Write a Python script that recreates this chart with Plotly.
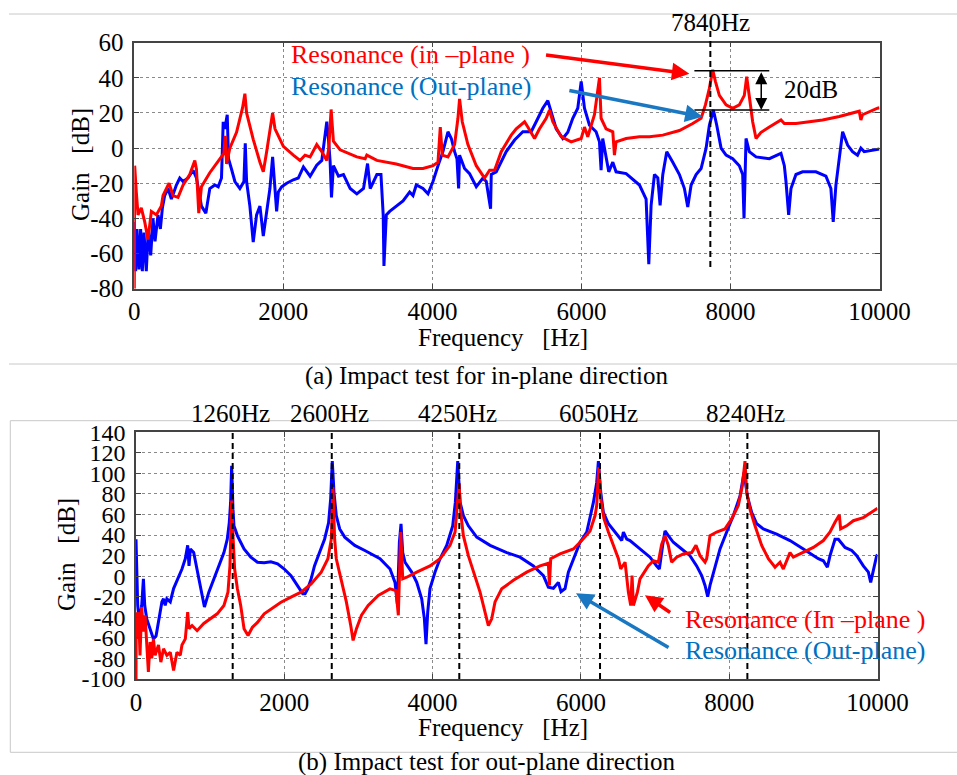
import plotly.graph_objects as go

# ---------------- data ----------------
# (a) impact test for in-plane direction
a_red_f = [0, 5, 27, 50, 94, 140, 184, 229, 296, 363, 386, 466, 520, 587, 655, 744, 812, 834, 865, 901,
           1013, 1148, 1202, 1220, 1238, 1282, 1372, 1453, 1484, 1507, 1596, 1686, 1731, 1776, 1820, 1856, 1888,
           2000, 2134, 2224, 2291, 2359, 2448, 2516, 2583, 2610, 2641, 2672, 2762, 2986, 3098, 3120, 3255, 3390,
           3516, 3740, 3874, 4008, 4075, 4106, 4133, 4209, 4298, 4343, 4365, 4401, 4477, 4589, 4700, 4768, 4835,
           4924, 5058, 5125, 5237, 5281, 5371, 5438, 5527, 5572, 5616, 5728, 5862, 5997, 6041, 6085, 6175, 6242,
           6264, 6331, 6421, 6443, 6465, 6600, 6778, 6913, 7092, 7315, 7494, 7606, 7664, 7717, 7762, 7798, 7851,
           7941, 8030, 8119, 8186, 8218, 8253, 8298, 8343, 8410, 8522, 8678, 8723, 8879, 9058, 9236, 9460, 9728,
           9750, 9772, 9974, 10000]
a_red_g = [-80, -10, -25, -38, -34, -42, -52, -36, -38, -33, -27, -20, -27, -28, -21, -15, -7, -12, -37, -22,
           -14, -6, -3, 7, -9, 0, 9, 23, 31, 20, 5, -8, -13.5, -2, 9, 20, 11,
           1, -4, -7, -4, -5, 2, -2, -7, 0, 22, 4, -1, -5, -6, -4, -7, -8,
           -9, -11.6, -11.6, -10, -8, 12, -4, -5, 2, 17, 28, 15, 2, -10, -17, -12.6, -12.6,
           -2, 7.4, 11, 15, 12, 5.5, 11, 17, 21.7, 15, 6.5, 3.6, 5.5, 12, 6.5, 19, 40,
           17, 11, 9.3, -4, 3.6, 5.5, 6.5, 6.5, 7.4, 10, 14, 17, 24.6, 34, 44.6, 38, 30,
           24.6, 22.7, 24.6, 30, 40.6, 30, 15, 5.5, 9, 12, 16, 14, 14, 15, 16, 18, 21,
           16, 19, 22.7, 23]

a_blue_f = [0, 9, 18, 36, 63, 85, 108, 130, 161, 188, 220, 251, 278, 318, 350, 377, 408, 453, 498, 565, 610,
            655, 722, 789, 834, 901, 960, 1013, 1081, 1126, 1170, 1193, 1215, 1247, 1264, 1305, 1350, 1417, 1471,
            1489, 1507, 1551, 1596, 1641, 1686, 1731, 1776, 1820, 1856, 1888, 1910, 1933, 1978, 2045, 2134, 2201,
            2269, 2359, 2448, 2516, 2560, 2583, 2605, 2628, 2646, 2672, 2740, 2807, 2897, 2986, 3076, 3130, 3166,
            3255, 3310, 3340, 3350, 3382, 3427, 3516, 3606, 3695, 3740, 3784, 3874, 3941, 4008, 4075, 4142, 4209,
            4254, 4298, 4330, 4352, 4365, 4432, 4499, 4589, 4678, 4723, 4781, 4790, 4857, 4991, 5103, 5214, 5326,
            5393, 5482, 5549, 5594, 5661, 5750, 5817, 5884, 5951, 5997, 6041, 6108, 6197, 6242, 6264, 6286, 6331,
            6367, 6421, 6465, 6600, 6733, 6779, 6868, 6904, 6935, 6980, 7025, 7056, 7092, 7145, 7226, 7315, 7382,
            7427, 7472, 7539, 7606, 7673, 7717, 7771, 7816, 7874, 7941, 8030, 8119, 8164, 8182, 8209, 8253, 8343,
            8522, 8678, 8723, 8745, 8781, 8812, 8879, 8968, 9147, 9281, 9348, 9379, 9415, 9460, 9505, 9572, 9638,
            9705, 9750, 9794, 10000]
a_blue_g = [-42, -65, -70, -46, -69, -46, -70, -48, -70, -46, -61, -40, -53, -38, -46, -34, -27, -23, -29, -21, -17,
            -19, -17, -12.6, -17, -33, -37, -23, -21, -22, -17, 15, 11, 19, -6, -12, -19, -23, -19,
            2.7, -19, -33, -53.5, -38, -33, -50, -36, -23, -5, -21, -36, -25, -22, -20, -18, -17,
            -10.7, -16, -9.7, -7, 9.3, 15, 5.5, -8, -28, -10, -16, -15, -23, -26, -23, -8.8, -23,
            -15, -15, -38, -67, -38, -36, -33, -30, -25, -27, -21, -23, -26, -19, -10, -2, 9.3,
            5.5, -2, -6, -23, -4, -11.6, -14.5, -22, -17, -19, -34.5, -15, -13.5, -2, 4.6, 9.3, 9.3,
            15, 22.7, 27, 20, 11, 5.5, 9, 17, 22.7, 38, 22.7, 13, 9.3, 3.6, -12.6, 5.5, -4,
            -13.5, -8, -13.5, -14.5, -19, -21, -29, -66, -32.6, -15, -17, -32.6, -15, -2, -8, -15, -23,
            -33.5, -21, -15, -11.6, 0, 13, 21.7, 13, 0, -4, -6, -10, -15, -40, 5.5, -2, -5,
            -6, -3, -10, -19, -38, -23, -15, -13.5, -13.5, -16, -23, -42, -21, -4, 9.3, 1.7, -2,
            -4, 0, -2, -0.5]

# (b) impact test for out-plane direction
b_blue_f = [0, 9, 23, 45, 77, 100, 118, 145, 190, 235, 271, 317, 349, 371, 394, 416, 462, 507, 575, 620, 665,
            697, 715, 733, 778, 824, 878, 923, 982, 1050, 1118, 1186, 1231, 1258, 1276, 1290, 1308, 1321, 1367,
            1457, 1548, 1638, 1729, 1819, 1910, 2000, 2090, 2181, 2249, 2280, 2317, 2362, 2407, 2475, 2543, 2597,
            2625, 2647, 2670, 2701, 2747, 2815, 2950, 3086, 3267, 3291, 3426, 3493, 3525, 3552, 3574, 3597, 3628,
            3718, 3786, 3853, 3889, 3911, 3934, 3965, 4033, 4100, 4190, 4271, 4307, 4339, 4370, 4415, 4482, 4595,
            4775, 5000, 5179, 5359, 5494, 5561, 5629, 5696, 5732, 5786, 5831, 5899, 5989, 6079, 6169, 6213, 6236,
            6268, 6303, 6371, 6483, 6551, 6573, 6618, 6662, 6797, 6932, 7022, 7058, 7103, 7134, 7179, 7246, 7359,
            7471, 7561, 7629, 7674, 7710, 7741, 7808, 7876, 7966, 8056, 8146, 8200, 8245, 8303, 8371, 8460, 8640,
            8820, 9000, 9112, 9202, 9270, 9324, 9360, 9427, 9472, 9562, 9652, 9720, 9809, 9877, 9908, 9944, 9989,
            10000]
b_blue_g = [36, 0.6, -28.5, -45, -28.5, -2.6, -28.5, -41.5, -51, -61, -58, -38, -25, -22, -28.5, -22, -25, -12, -1, 7, 17,
            30, 10, 26.5, 23, 7, -12, -30, -15.5, -2.6, 10, 23, 36, 52, 72, 107.5, 65, 49, 39.5,
            26.5, 18.5, 13.6, 13, 14, 12, 7, 0.6, -9, -17, -17, -12, -2.6, 10, 23, 36, 52,
            75, 112, 81.6, 59, 46, 38, 30, 25, 18.5, 17, 7, -6, -27, 33, 51, 23, 13.6,
            4, -6, -22, -41.5, -66, -35, -12, 4, 17, 30, 49, 72, 112, 72, 59, 49, 38,
            30, 23, 18.5, 10, 0.6, -10.7, -11.7, -6, -15, -12, 4, 17, 33, 43, 72, 91, 112,
            81.6, 62, 51, 41, 34.7, 43, 36, 34.7, 26.5, 18.5, 10, 7, 30, 44, 39.5, 33, 26.5,
            20, 10, 0.6, -9, -20, -9, 10, 26.5, 43, 59, 78, 101, 78, 62, 51, 46, 41,
            34.7, 26.5, 21.7, 17, 15, 8.7, 20, 36, 36, 28, 25, 20, 10, 4, -6, 7, 20,
            21]

b_red_f = [0, 3, 9, 36, 54, 77, 100, 122, 145, 167, 190, 213, 235, 258, 303, 335, 371, 416, 462, 507, 552, 597,
           620, 665, 697, 715, 756, 824, 914, 1005, 1095, 1186, 1240, 1267, 1290, 1308, 1330, 1367, 1412, 1457,
           1511, 1570, 1638, 1729, 1819, 1955, 2090, 2226, 2362, 2498, 2588, 2634, 2656, 2679, 2701, 2769, 2837,
           2896, 2928, 2973, 3041, 3131, 3267, 3425, 3507, 3538, 3570, 3597, 3651, 3786, 3965, 4100, 4235, 4303,
           4334, 4357, 4379, 4415, 4482, 4572, 4640, 4707, 4752, 4797, 4842, 4932, 5089, 5269, 5449, 5561, 5575,
           5593, 5719, 5899, 6011, 6124, 6191, 6213, 6240, 6268, 6312, 6371, 6438, 6506, 6537, 6596, 6640, 6672,
           6690, 6708, 6762, 6797, 6909, 6977, 7044, 7089, 7134, 7179, 7224, 7291, 7381, 7494, 7552, 7606, 7674,
           7696, 7741, 7831, 7943, 8033, 8123, 8177, 8213, 8236, 8281, 8348, 8438, 8528, 8618, 8685, 8730, 8820,
           8865, 9000, 9135, 9270, 9360, 9427, 9485, 9503, 9584, 9674, 9809, 10000]
b_red_g = [-100, -35, -61, -35, -77, -30, -54, -38, -61, -93, -64, -80, -61, -77, -67, -83.6, -70.6, -77, -74, -91.7, -74, -77,
           -67, -61, -35, -51, -48, -53, -46, -41.5, -36.6, -28.5, -15.5, 10, 73.5, 39.5, 7, -12, -28.5, -51,
           -57.7, -49.6, -45, -36.6, -31.8, -25.3, -20.4, -15.5, -7.5, 4, 17, 36, 86.5, 36, 17, -2.6, -25,
           -48, -62.5, -51, -38, -28.5, -18.8, -12.3, -14, -38, 43, -2.6, -1, 4, 10, 17, 30, 43,
           68.7, 90, 62, 39.5, 20, 0.6, -15.5, -35, -48, -41.5, -25, -12.3, -4, 4, 10, 12.6, -9,
           17, 21.7, 26.5, 34.7, 44, 59, 68.7, 106, 75, 55.7, 43, 30, 17, 7, 13.6, -15.5, -28.5,
           0.6, -28.5, -15.5, -2.6, 10, 15, 13.6, 31, 39.5, 30, 13.6, 18.5, 21.7, 23, 30, 20, 13.6,
           17, 39.5, 43, 46, 55.7, 68.7, 88, 112, 81.6, 65, 49, 30, 17, 8.7, 13.6, 7, 23,
           18.5, 23, 28, 34.7, 43, 52.5, 59.6, 46, 49, 54, 57, 66]

a_marker_f = 7730          # dashed line in (a), labelled 7840Hz
a_marker_label = "7840Hz"
b_marker_f = [1304, 2640, 4360, 6258, 8245]
b_marker_labels = ["1260Hz", "2600Hz", "4250Hz", "6050Hz", "8240Hz"]
a_level_hi, a_level_lo = 44, 21.7
a_yticks = [-80, -60, -40, -20, 0, 20, 40, 60]
b_yticks = [-100, -80, -60, -40, -20, 0, 20, 40, 60, 80, 100, 120, 140]
xticks = [0, 2000, 4000, 6000, 8000, 10000]

# ---------------- figure ----------------
W, H = 957, 775
def px(x): return x / W
def py(y): return 1 - y / H

FONT = "Liberation Serif"
RED = "#FF0000"
BLUE = "#0000FF"
LBLUE = "#0070C0"
ABLUE = "#1A78C2"
LW = 3

fig = go.Figure()
fig.add_trace(go.Scatter(x=a_blue_f, y=a_blue_g, mode="lines", line=dict(color=BLUE, width=LW),
                         xaxis="x", yaxis="y", showlegend=False))
fig.add_trace(go.Scatter(x=a_red_f, y=a_red_g, mode="lines", line=dict(color=RED, width=LW),
                         xaxis="x", yaxis="y", showlegend=False))
fig.add_trace(go.Scatter(x=b_blue_f, y=b_blue_g, mode="lines", line=dict(color=BLUE, width=LW),
                         xaxis="x2", yaxis="y2", showlegend=False))
fig.add_trace(go.Scatter(x=b_red_f, y=b_red_g, mode="lines", line=dict(color=RED, width=LW),
                         xaxis="x2", yaxis="y2", showlegend=False))

def ytext(v): return [str(t) for t in v]

def axis_common(size=25):
    return dict(showline=True, linecolor="#444", linewidth=1.5, mirror="ticks",
                ticks="inside", ticklen=5, tickcolor="#444", automargin=False,
                showgrid=True, gridcolor="#8a8a8a", griddash="dot", gridwidth=1,
                zeroline=False, tickfont=dict(family=FONT, size=size, color="black"))

fig.update_layout(
    width=W, height=H, margin=dict(l=0, r=0, t=0, b=0, pad=0, autoexpand=False),
    paper_bgcolor="white", plot_bgcolor="white", showlegend=False,
    font=dict(family=FONT, color="black"),
    xaxis=dict(domain=[px(134.3), px(879.5)], range=[0, 10000], anchor="y",
               tickvals=xticks, ticktext=[str(t) for t in xticks], **axis_common()),
    yaxis=dict(domain=[py(288.7), py(42.7)], range=[-80, 60], anchor="x",
               tickvals=a_yticks, ticktext=ytext(a_yticks), ticklabelstandoff=4, **axis_common()),
    xaxis2=dict(domain=[px(136), px(877.5)], range=[0, 10000], anchor="y2",
                tickvals=xticks, ticktext=[str(t) for t in xticks], **axis_common()),
    yaxis2=dict(domain=[py(679), py(432.3)], range=[-100, 140], anchor="x2",
                tickvals=b_yticks, ticktext=ytext(b_yticks), ticklabelstandoff=4, **axis_common(24)),
)

shapes = []
# separators / frame
sep = dict(color="#c8c8c8", width=1)
shapes.append(dict(type="line", xref="paper", yref="paper", x0=px(9), x1=1, y0=py(14), y1=py(14), line=sep))
shapes.append(dict(type="line", xref="paper", yref="paper", x0=px(9), x1=1, y0=py(364), y1=py(364), line=sep))
shapes.append(dict(type="line", xref="paper", yref="paper", x0=px(10.3), x1=1, y0=py(420.7), y1=py(420.7), line=sep))
shapes.append(dict(type="line", xref="paper", yref="paper", x0=px(10.3), x1=1, y0=py(752.3), y1=py(752.3), line=sep))
shapes.append(dict(type="line", xref="paper", yref="paper", x0=px(10.3), x1=px(10.3), y0=py(752.3), y1=py(420.7), line=sep))

dash = dict(color="black", width=2, dash="6px,4px")
shapes.append(dict(type="line", xref="x", yref="paper", x0=a_marker_f, x1=a_marker_f,
                   y0=py(267), y1=py(28), line=dash))
for f in b_marker_f:
    shapes.append(dict(type="line", xref="x2", yref="y2", x0=f, x1=f, y0=-100, y1=140, line=dash))
# 20 dB level lines
for lv in (a_level_hi, a_level_lo):
    shapes.append(dict(type="line", xref="x", yref="y", x0=7516, x1=8521, y0=lv, y1=lv,
                       line=dict(color="black", width=1.5)))
fig.update_layout(shapes=shapes)

ann = []
def txt(x, y, s, color="black", size=25, xanchor="center", angle=0):
    ann.append(dict(x=px(x), y=py(y), xref="paper", yref="paper", text=s, showarrow=False,
                    font=dict(family=FONT, size=size, color=color), xanchor=xanchor, yanchor="middle",
                    textangle=angle))

# axis titles & captions
txt(503, 337, "Frequency&nbsp;&nbsp;&nbsp;[Hz]")
txt(503, 727, "Frequency&nbsp;&nbsp;&nbsp;[Hz]")
txt(80, 165, "Gain&nbsp;&nbsp;&nbsp;[dB]", angle=-90)
txt(66, 555, "Gain&nbsp;&nbsp;&nbsp;[dB]", angle=-90)
txt(487, 376, "(a) Impact test for in-plane direction")
txt(487, 762, "(b) Impact test for out-plane direction")
# marker labels
txt(710, 22, a_marker_label)
for f, lab in zip(b_marker_f, b_marker_labels):
    xpix = 136 + f / 10000 * (877.5 - 136)
    txt(xpix - 2, 413, lab)
txt(782, 89, "20dB", xanchor="left")
txt(289, 55, "Resonance (in –plane )", color=RED, size=26, xanchor="left")
txt(289, 86, "Resonance (Out-plane)", color=LBLUE, size=26, xanchor="left")
txt(683, 619, "Resonance (In –plane )", color=RED, size=26, xanchor="left")
txt(683, 650, "Resonance (Out-plane)", color=LBLUE, size=26, xanchor="left")

def arrow(xr, yr, x, y, ax, ay, color, width=3.5, side="end", head=2, size=1.0):
    ann.append(dict(x=x, y=y, ax=ax, ay=ay, xref=xr, yref=yr, axref=xr, ayref=yr, text="",
                    showarrow=True, arrowcolor=color, arrowwidth=width, arrowhead=head,
                    arrowsize=size, arrowside=side, startarrowhead=head, startarrowsize=size))

arrow("x", "y", 7449, 42.3, 5505, 53.1, RED)
arrow("x", "y", 7627, 17.8, 5818, 33.0, ABLUE)
arrow("x", "y", 8413, a_level_lo, 8413, a_level_hi, "black", width=1.5, side="end+start", head=2, size=1.6)
arrow("x2", "y2", 6864, -18.5, 7224, -36.3, RED)
arrow("x2", "y2", 5934, -16.5, 7202, -70.3, ABLUE)

fig.update_layout(annotations=ann)

fig.write_html("out.html", config={"displayModeBar": False},
               post_script="document.body.style.margin='0px';")
